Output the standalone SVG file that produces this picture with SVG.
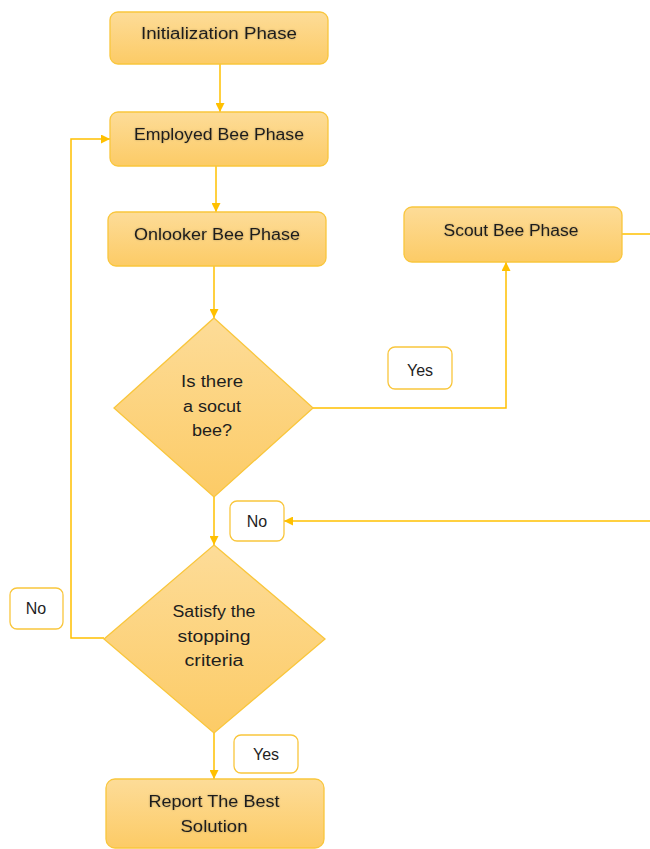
<svg xmlns="http://www.w3.org/2000/svg" width="650" height="849" viewBox="0 0 650 849">
  <defs>
    <linearGradient id="fillGrad" x1="0" y1="0" x2="0" y2="1">
      <stop offset="0" stop-color="#FDDC98"/>
      <stop offset="1" stop-color="#FCCB66"/>
    </linearGradient>
    <marker id="arrow" viewBox="0 0 10 10" refX="10" refY="5" markerWidth="9" markerHeight="9" markerUnits="userSpaceOnUse" orient="auto">
      <path d="M0,0 L10,5 L0,10 Z" fill="#FFC000"/>
    </marker>
    <filter id="glow" x="-10%" y="-30%" width="120%" height="160%">
      <feGaussianBlur in="SourceAlpha" stdDeviation="0.8" result="b"/>
      <feFlood flood-color="#000" flood-opacity="0.25"/>
      <feComposite in2="b" operator="in" result="s"/>
      <feMerge><feMergeNode in="s"/><feMergeNode in="SourceGraphic"/></feMerge>
    </filter>
  </defs>
  <style>
    .box { fill: url(#fillGrad); stroke: #F9C63C; stroke-width: 1.3; }
    .dia { fill: url(#fillGrad); stroke: #F9C63C; stroke-width: 1.3; }
    .lbl { fill: #FFFFFF; stroke: #F9C63C; stroke-width: 1.3; }
    .t { font-family: "Liberation Sans", Arial, sans-serif; font-size: 16px; fill: #1E1E1E; text-anchor: middle; }
    .bt { filter: url(#glow); }
    .conn { fill: none; stroke: #FFC000; stroke-width: 1.5; }
  </style>

  <!-- connectors -->
  <g id="connectors">
    <path class="conn" d="M220,64 V112" marker-end="url(#arrow)"/>
    <path class="conn" d="M216,166 V212" marker-end="url(#arrow)"/>
    <path class="conn" d="M214,266 V318" marker-end="url(#arrow)"/>
    <path class="conn" d="M313,408 H506 V262" marker-end="url(#arrow)"/>
    <path class="conn" d="M622,234 H650"/>
    <path class="conn" d="M650,521 H284" marker-end="url(#arrow)"/>
    <path class="conn" d="M214,497 V545" marker-end="url(#arrow)"/>
    <path class="conn" d="M104,638 H71 V139 H110" marker-end="url(#arrow)"/>
    <path class="conn" d="M214,733 V779" marker-end="url(#arrow)"/>
  </g>

  <g id="init">
    <rect class="box" x="110" y="12" width="218" height="52" rx="8"/>
    <text class="t bt" x="219" y="39" textLength="156" lengthAdjust="spacingAndGlyphs">Initialization Phase</text>
  </g>

  <g id="employed">
    <rect class="box" x="110" y="112" width="218" height="54" rx="8"/>
    <text class="t bt" x="219" y="140" textLength="170" lengthAdjust="spacingAndGlyphs">Employed Bee Phase</text>
  </g>

  <g id="onlooker">
    <rect class="box" x="108" y="212" width="218" height="54" rx="8"/>
    <text class="t bt" x="217" y="240" textLength="166" lengthAdjust="spacingAndGlyphs">Onlooker Bee Phase</text>
  </g>

  <g id="scout">
    <rect class="box" x="404" y="207" width="218" height="55" rx="8"/>
    <text class="t bt" x="511" y="236" textLength="135" lengthAdjust="spacingAndGlyphs">Scout Bee Phase</text>
  </g>

  <g id="decision-scout">
    <polygon class="dia" points="214,318 313,408 214,497 114,408"/>
    <text class="t" x="212" y="387" textLength="62" lengthAdjust="spacingAndGlyphs">Is there</text>
    <text class="t" x="212" y="412" textLength="58" lengthAdjust="spacingAndGlyphs">a socut</text>
    <text class="t" x="212" y="436" textLength="40" lengthAdjust="spacingAndGlyphs">bee?</text>
  </g>

  <g id="decision-stop">
    <polygon class="dia" points="214,545 325,639 214,733 104,639"/>
    <text class="t" x="214" y="617" textLength="83" lengthAdjust="spacingAndGlyphs">Satisfy the</text>
    <text class="t" x="214" y="642" textLength="73" lengthAdjust="spacingAndGlyphs">stopping</text>
    <text class="t" x="214" y="666" textLength="59" lengthAdjust="spacingAndGlyphs">criteria</text>
  </g>

  <g id="report">
    <rect class="box" x="106" y="779" width="218" height="69" rx="9"/>
    <text class="t bt" x="214" y="807" textLength="131" lengthAdjust="spacingAndGlyphs">Report The Best</text>
    <text class="t bt" x="214" y="832" textLength="67" lengthAdjust="spacingAndGlyphs">Solution</text>
  </g>

  <g id="label-yes-scout">
    <rect class="lbl" x="388" y="347" width="64" height="42" rx="7"/>
    <text class="t" x="420" y="376">Yes</text>
  </g>

  <g id="label-no-scout">
    <rect class="lbl" x="230" y="501" width="54" height="40" rx="7"/>
    <text class="t" x="257" y="527">No</text>
  </g>

  <g id="label-no-stop">
    <rect class="lbl" x="10" y="588" width="53" height="41" rx="7"/>
    <text class="t" x="36" y="614">No</text>
  </g>

  <g id="label-yes-stop">
    <rect class="lbl" x="234" y="735" width="64" height="38" rx="7"/>
    <text class="t" x="266" y="760">Yes</text>
  </g>
</svg>
